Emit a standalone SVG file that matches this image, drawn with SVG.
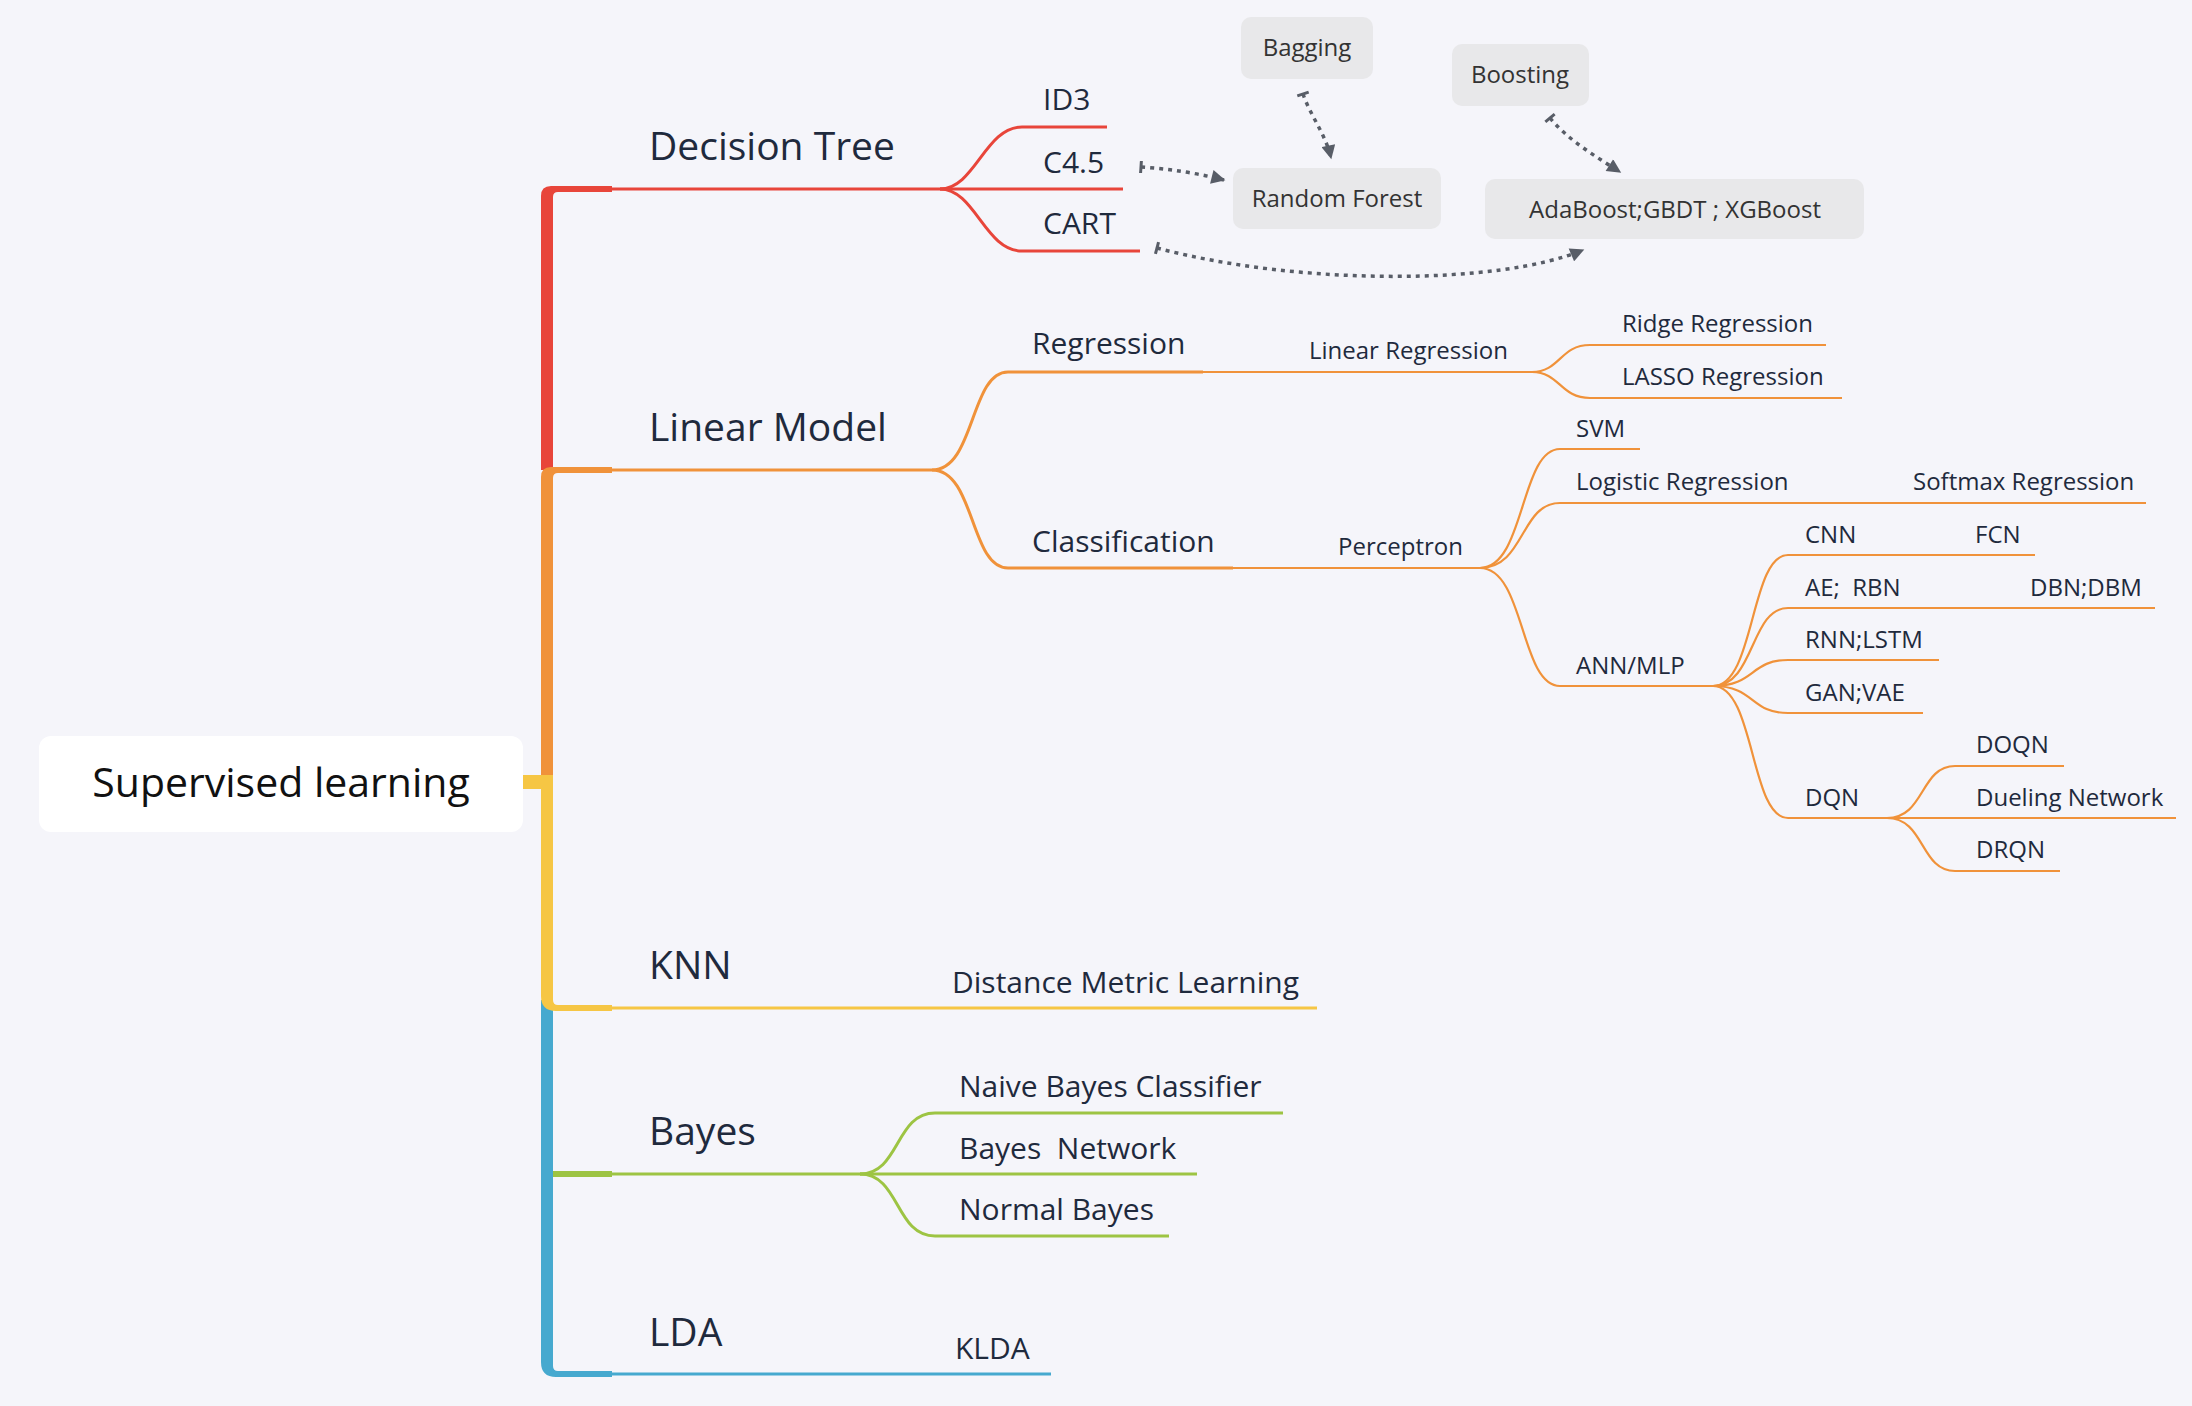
<svg xmlns="http://www.w3.org/2000/svg" width="2192" height="1406" viewBox="0 0 2192 1406">
<defs>
<style>
text{font-family:"Open Sans","Liberation Sans",sans-serif;fill:#1f2a3d}
.l0{font-size:41px;fill:#111}
.l1{font-size:39px}
.l2{font-size:30px}
.l3{font-size:24px}
.bx{font-size:24px;fill:#333;text-anchor:middle}
.box{fill:#e8e8ea}
.red{stroke:#e8453a;fill:none}
.org{stroke:#f0923a;fill:none}
.yel{stroke:#f6c644;fill:none}
.blu{stroke:#46a9cf;fill:none}
.grn{stroke:#9dc443;fill:none}
.w6{stroke-width:6}
.w4{stroke-width:4}
.w3{stroke-width:3}
.w2{stroke-width:2.2}
.dot{fill:none;stroke:#585d67;stroke-width:3.5;stroke-dasharray:4 5;marker-end:url(#ah);marker-start:url(#tb)}
</style>
<marker id="ah" viewBox="0 0 10 10" refX="9" refY="5" markerWidth="15" markerHeight="14" orient="auto" markerUnits="userSpaceOnUse"><path d="M0,0 L10,5 L0,10 z" fill="#585d67"/></marker>
<marker id="tb" viewBox="-3 -7 6 14" refX="0" refY="0" markerWidth="6" markerHeight="14" orient="auto" markerUnits="userSpaceOnUse"><path d="M0,-6 V6" stroke="#585d67" stroke-width="3"/></marker>
</defs>
<rect width="2192" height="1406" fill="#f5f5fa"/>

<g id="connectors">
<path d="M541 1000 V1362 Q541 1377 556 1377 H612 V1371 H558 Q553 1371 553 1366 V1000 Z" fill="#46a9cf"/>
<path d="M553 1174 H612" class="grn w6"/>
<path d="M541 470 V196 Q541 186 551 186 H612 V192 H558 Q553 192 553 197 V470 Z" fill="#e8453a"/>
<path d="M541 775 V477 Q541 467 551 467 H612 V473 H558 Q553 473 553 478 V775 Z" fill="#f0923a"/>
<path d="M523 775 H553 V1000 Q553 1005 558 1005 H612 V1011 H556 Q541 1011 541 996 V789 H523 Z" fill="#f6c644"/>

<path d="M612 189 H940" class="red w3"/>
<path d="M940 189 C975 189 985 127 1022 127 H1107" class="red w3"/>
<path d="M940 189 H1123" class="red w3"/>
<path d="M940 189 C975 189 985 251 1022 251 H1140" class="red w3"/>

<path d="M612 470 H932" class="org w3"/>
<path d="M932 470 C975 470 970 372 1008 372 H1203" class="org w3"/>
<path d="M1203 372 H1532" class="org w2"/>
<path d="M932 470 C975 470 970 568 1008 568 H1233" class="org w3"/>
<path d="M1233 568 H1480" class="org w2"/>
<path d="M1532 372 C1560 372 1560 345 1590 345 H1826" class="org w2"/>
<path d="M1532 372 C1560 372 1560 398 1590 398 H1842" class="org w2"/>
<path d="M1480 568 C1525 568 1520 449 1560 449 H1640" class="org w2"/>
<path d="M1480 568 C1525 568 1520 503 1560 503 H2146" class="org w2"/>
<path d="M1480 568 C1525 568 1520 686 1560 686 H1713" class="org w2"/>
<path d="M1713 686 C1755 686 1750 555 1788 555 H2035" class="org w2"/>
<path d="M1713 686 C1755 686 1750 608 1788 608 H2155" class="org w2"/>
<path d="M1713 686 C1755 686 1750 660 1788 660 H1939" class="org w2"/>
<path d="M1713 686 C1755 686 1750 713 1788 713 H1923" class="org w2"/>
<path d="M1713 686 C1755 686 1750 818 1788 818 H1887" class="org w2"/>
<path d="M1887 818 C1925 818 1920 766 1955 766 H2064" class="org w2"/>
<path d="M1887 818 H2176" class="org w2"/>
<path d="M1887 818 C1925 818 1920 871 1955 871 H2060" class="org w2"/>

<path d="M612 1008 H1317" class="yel w3"/>

<path d="M612 1174 H860" class="grn w3"/>
<path d="M860 1174 C900 1174 895 1113 935 1113 H1283" class="grn w3"/>
<path d="M860 1174 H1197" class="grn w3"/>
<path d="M860 1174 C900 1174 895 1236 935 1236 H1169" class="grn w3"/>

<path d="M612 1374 H1051" class="blu w3"/>

<path d="M1303 94 C1310 115 1326 135 1331 158" class="dot"/>
<path d="M1141 167 Q1185 170 1224 180" class="dot"/>
<path d="M1550 118 C1568 140 1595 156 1620 172" class="dot"/>
<path d="M1157 248 C1300 286 1500 285 1583 250" class="dot"/>
</g>

<g id="root"><rect x="39" y="736" width="484" height="96" rx="12" fill="#ffffff"/><text class="l0" x="281" y="797" text-anchor="middle">Supervised learning</text></g>

<g id="decision-tree"><text class="l1" x="649" y="160">Decision Tree</text></g>
<g id="id3"><text class="l2" x="1043" y="110">ID3</text></g>
<g id="c45"><text class="l2" x="1043" y="173">C4.5</text></g>
<g id="cart"><text class="l2" x="1043" y="234">CART</text></g>

<g id="bagging"><rect class="box" x="1241" y="17" width="132" height="62" rx="10"/><text class="bx" x="1307" y="56">Bagging</text></g>
<g id="boosting"><rect class="box" x="1452" y="44" width="137" height="62" rx="10"/><text class="bx" x="1520" y="83">Boosting</text></g>
<g id="random-forest"><rect class="box" x="1233" y="168" width="208" height="61" rx="10"/><text class="bx" x="1337" y="207">Random Forest</text></g>
<g id="adaboost"><rect class="box" x="1485" y="179" width="379" height="60" rx="10"/><text class="bx" x="1675" y="218">AdaBoost;GBDT ; XGBoost</text></g>

<g id="linear-model"><text class="l1" x="649" y="441">Linear Model</text></g>
<g id="regression"><text class="l2" x="1032" y="354">Regression</text></g>
<g id="classification"><text class="l2" x="1032" y="552">Classification</text></g>
<g id="linear-regression"><text class="l3" x="1309" y="359">Linear Regression</text></g>
<g id="ridge"><text class="l3" x="1622" y="332">Ridge Regression</text></g>
<g id="lasso"><text class="l3" x="1622" y="385">LASSO Regression</text></g>
<g id="perceptron"><text class="l3" x="1338" y="555">Perceptron</text></g>
<g id="svm"><text class="l3" x="1576" y="437">SVM</text></g>
<g id="logistic"><text class="l3" x="1576" y="490">Logistic Regression</text></g>
<g id="softmax"><text class="l3" x="1913" y="490">Softmax Regression</text></g>
<g id="ann"><text class="l3" x="1576" y="674">ANN/MLP</text></g>
<g id="cnn"><text class="l3" x="1805" y="543">CNN</text></g>
<g id="fcn"><text class="l3" x="1975" y="543">FCN</text></g>
<g id="ae"><text class="l3" x="1805" y="596" xml:space="preserve">AE;  RBN</text></g>
<g id="dbn"><text class="l3" x="2030" y="596">DBN;DBM</text></g>
<g id="rnn"><text class="l3" x="1805" y="648">RNN;LSTM</text></g>
<g id="gan"><text class="l3" x="1805" y="701">GAN;VAE</text></g>
<g id="dqn"><text class="l3" x="1805" y="806">DQN</text></g>
<g id="doqn"><text class="l3" x="1976" y="753">DOQN</text></g>
<g id="dueling"><text class="l3" x="1976" y="806">Dueling Network</text></g>
<g id="drqn"><text class="l3" x="1976" y="858">DRQN</text></g>

<g id="knn"><text class="l1" x="649" y="979">KNN</text></g>
<g id="dml"><text class="l2" x="952" y="993">Distance Metric Learning</text></g>

<g id="bayes"><text class="l1" x="649" y="1145">Bayes</text></g>
<g id="naive"><text class="l2" x="959" y="1097">Naive Bayes Classifier</text></g>
<g id="bayes-network"><text class="l2" x="959" y="1159" xml:space="preserve">Bayes  Network</text></g>
<g id="normal"><text class="l2" x="959" y="1220">Normal Bayes</text></g>

<g id="lda"><text class="l1" x="649" y="1346">LDA</text></g>
<g id="klda"><text class="l2" x="955" y="1359">KLDA</text></g>
</svg>
